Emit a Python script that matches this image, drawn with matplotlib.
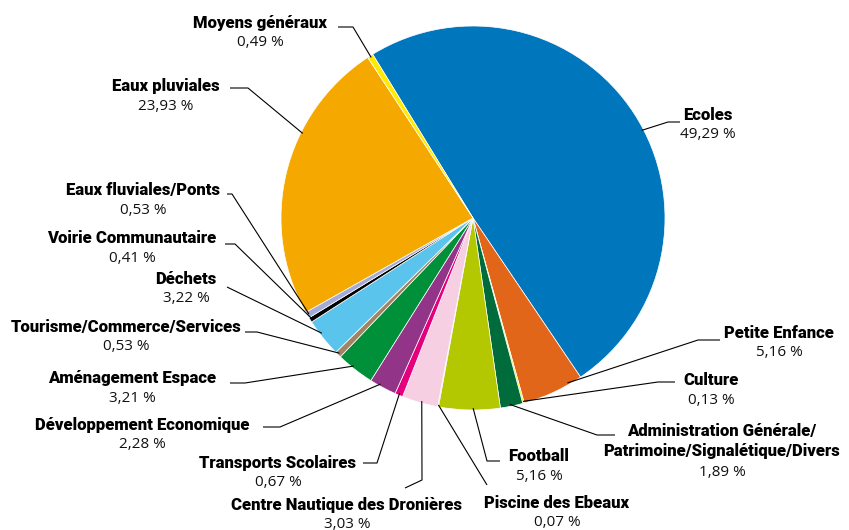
import numpy as np
import matplotlib.pyplot as plt

# --- data (clockwise from the top) ---
labels = ["Ecoles", "Petite Enfance", "Culture",
          "Administration Générale/\nPatrimoine/Signalétique/Divers",
          "Football", "Piscine des Ebeaux", "Centre Nautique des Dronières",
          "Transports Scolaires", "Développement Economique",
          "Aménagement Espace", "Tourisme/Commerce/Services", "Déchets",
          "Voirie Communautaire", "Eaux fluviales/Ponts", "Eaux pluviales",
          "Moyens généraux"]
values = [49.29, 5.16, 0.13, 1.89, 5.16, 0.07, 3.03, 0.67, 2.28,
          3.21, 0.53, 3.22, 0.41, 0.53, 23.93, 0.49]
colors = ["#0077bd", "#e2661a", "#ffe600", "#006c3b", "#b3c800", "#7a7a7a",
          "#f6cfe2", "#e4007d", "#923589", "#009039", "#a08463", "#5bc4ec",
          "#000000", "#a3acd8", "#f5a800", "#ffea00"]

# --- label layout, pixel coords (x, y from top) ---
# text centre x, bold block centre y, leader start, leader knee, anchor fraction in wedge
layout = [
    (708, 115, (680, 122), (668, 122), 0.53),
    (779, 333, (720, 340), (698, 340), 0.23),
    (711, 380, (675, 382), (658, 382), 0.5),
    (722, 441, (615, 435), (597, 435), 0.56),
    (539, 456, (500, 461), (487, 461), 0.44),
    (557, 503, (487, 485), (487, 485), 0.5),
    (347, 505, (405, 488), (422, 480), 0.46),
    (278, 463, (363, 463), (377, 463), 0.5),
    (142, 425, (263, 427), (280, 427), 0.63),
    (132, 378, (230, 383), (245, 383), 0.58),
    (126, 327, (245, 332), (257, 332), 0.5),
    (186, 279, (227, 287), (227, 287), 0.61),
    (132, 238, (225, 244), (235, 244), 0.6),
    (143, 190, (227, 194), (232, 194), 0.5),
    (166, 86, (230, 88), (248, 88), 0.648),
    (260, 23, (338, 27), (353, 27), 0.5),
]

W, H = 849, 530
cx, cy, R = 473, 218, 192

fig = plt.figure(figsize=(W / 100, H / 100), dpi=100)
ax = fig.add_axes([0, 0, 1, 1])

wedges, _ = ax.pie(values, colors=colors, startangle=121.5, counterclock=False,
                   center=(cx, H - cy), radius=R,
                   wedgeprops=dict(edgecolor="white", linewidth=0.5))
ax.set_xlim(0, W)
ax.set_ylim(0, H)
ax.set_aspect("equal")
ax.axis("off")

bold_font = ["Roboto", "DejaVu Sans"]
reg_font = ["Open Sans", "DejaVu Sans"]

for lab, val, w, (tx, ty, p0, p1, f) in zip(labels, values, wedges, layout):
    ang = np.deg2rad(w.theta2 - f * (w.theta2 - w.theta1))
    ax_, ay_ = cx + 0.99 * R * np.cos(ang), (H - cy) + 0.99 * R * np.sin(ang)
    xs = [p0[0], p1[0], ax_]
    ys = [H - p0[1], H - p1[1], ay_]
    ax.plot(xs, ys, color="black", lw=0.8, solid_capstyle="butt")

    nlines = lab.count("\n") + 1
    ax.text(tx, H - ty, lab, ha="center", va="center", family=bold_font,
            fontweight="black", fontsize=12, linespacing=1.3)
    pct = f"{val:.2f}".replace(".", ",") + " %"
    py = ty + 20 + (nlines - 1) * 11.5
    ax.text(tx, H - py, pct, ha="center", va="center", family=reg_font,
            fontsize=11, color="#111111")

fig.savefig("out.png", dpi=100)
